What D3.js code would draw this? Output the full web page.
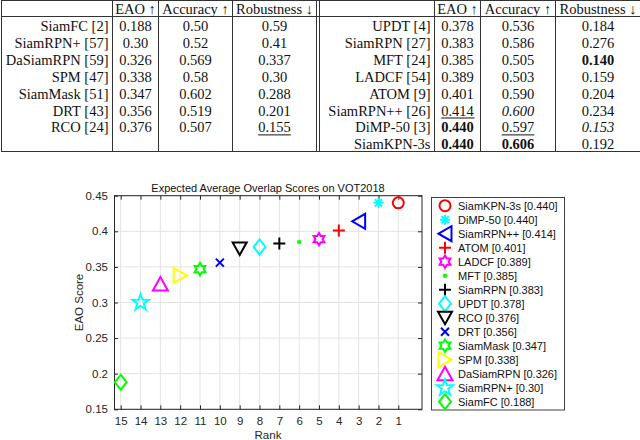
<!DOCTYPE html>
<html><head><meta charset="utf-8">
<script src="https://cdn.jsdelivr.net/npm/d3@7"></script>
<style>body{margin:0;background:#fff}svg{display:block}</style>
</head><body>
<script>
// ---------- table data ----------
const tableHeaders = ["EAO \u2191", "Accuracy \u2191", "Robustness \u2193"];
const leftNames = ["SiamFC [2]", "SiamRPN+ [57]", "DaSiamRPN [59]", "SPM [47]", "SiamMask [51]", "DRT [43]", "RCO [24]"];
const leftEAO = ["0.188", "0.30", "0.326", "0.338", "0.347", "0.356", "0.376"];
const leftAcc = ["0.50", "0.52", "0.569", "0.58", "0.602", "0.519", "0.507"];
const leftRob = ["0.59", "0.41", "0.337", "0.30", "0.288", "0.201", "0.155"];
const leftEmph = [["","",""],["","",""],["","",""],["","",""],["","",""],["","",""],["","","u"]];
const rightNames = ["UPDT [4]", "SiamRPN [27]", "MFT [24]", "LADCF [54]", "ATOM [9]", "SiamRPN++ [26]", "DiMP-50 [3]", "SiamKPN-3s"];
const rightEAO = ["0.378", "0.383", "0.385", "0.389", "0.401", "0.414", "0.440", "0.440"];
const rightAcc = ["0.536", "0.586", "0.505", "0.503", "0.590", "0.600", "0.597", "0.606"];
const rightRob = ["0.184", "0.276", "0.140", "0.159", "0.204", "0.234", "0.153", "0.192"];
const rightEmph = [["","",""],["","",""],["","","b"],["","",""],["","",""],["u","i",""],["b","u","i"],["b","b",""]];

// ---------- chart data ----------
const trackers = ["SiamKPN-3s","DiMP-50","SiamRPN++","ATOM","LADCF","MFT","SiamRPN","UPDT","RCO","DRT","SiamMask","SPM","DaSiamRPN","SiamRPN+","SiamFC"];
const eaoScores = [0.440,0.440,0.414,0.401,0.389,0.385,0.383,0.378,0.376,0.356,0.347,0.338,0.326,0.30,0.188];
const scoreLabels = ["0.440","0.440","0.414","0.401","0.389","0.385","0.383","0.378","0.376","0.356","0.347","0.338","0.326","0.30","0.188"];
const ranks = [1,2,3,4,5,6,7,8,9,10,11,12,13,14,15];
const markerTypes = ["circle","asterisk","triLeft","plus","hexagram","point","plus","diamond","triDown","x","hexagram","triRight","triUp","pentagram","diamond"];
const markerColors = ["#ff0000","#00ffff","#0000ff","#ff0000","#ff00ff","#00ff00","#000000","#00ffff","#000000","#0000ff","#00ff00","#ffff00","#ff00ff","#00ffff","#00ff00"];
const yTicks = [0.15,0.2,0.25,0.3,0.35,0.4,0.45];
const xTicks = [15,14,13,12,11,10,9,8,7,6,5,4,3,2,1];

const W = 640, H = 440;
const svg = d3.select("body").append("svg").attr("width", W).attr("height", H);

// ---------- table ----------
const tFont = "'Liberation Serif', 'Times New Roman', serif";
const tfs = 14.5;
const rowY0 = 26, rowStep = 16.9, headY = 8.5;
const tg = svg.append("g").attr("font-family", tFont).attr("font-size", tfs).attr("fill", "#111");
const lineCol = "#333";
function hline(x1, x2, y) { tg.append("line").attr("x1", x1).attr("x2", x2).attr("y1", y).attr("y2", y).attr("stroke", lineCol).attr("stroke-width", 1); }
function vline(x, y1, y2) { tg.append("line").attr("x1", x).attr("x2", x).attr("y1", y1).attr("y2", y2).attr("stroke", lineCol).attr("stroke-width", 1); }
hline(1, 640, 0.5); hline(1, 640, 16.5); hline(1, 640, 151.5);
[1.5, 112.5, 158.5, 232.5, 316.5, 319.5, 434.5, 480.5, 555.5].forEach(x => vline(x, 0, 152));

function cellText(x, y, txt, anchor, emph) {
  const t = tg.append("text").attr("x", x).attr("y", y).attr("text-anchor", anchor)
    .attr("dominant-baseline", "central").text(txt);
  if (emph === "b") t.attr("font-weight", "bold");
  if (emph === "i") t.attr("font-style", "italic");
  if (emph === "u") {
    const bb = t.node().getBBox();
    tg.append("line").attr("x1", bb.x).attr("x2", bb.x + bb.width).attr("y1", y + 7.5).attr("y2", y + 7.5)
      .attr("stroke", "#111").attr("stroke-width", 1);
  }
}
function drawHalf(names, eao, acc, rob, emph, cols) {
  tableHeaders.forEach((h, i) => cellText(cols[i + 1], headY, h, "middle", ""));
  names.forEach((n, i) => {
    const y = rowY0 + i * rowStep;
    cellText(cols[0], y, n, "end", "");
    cellText(cols[1], y, eao[i], "middle", emph[i][0]);
    cellText(cols[2], y, acc[i], "middle", emph[i][1]);
    cellText(cols[3], y, rob[i], "middle", emph[i][2]);
  });
}
drawHalf(leftNames, leftEAO, leftAcc, leftRob, leftEmph, [108.5, 135.5, 195.5, 274.5]);
drawHalf(rightNames, rightEAO, rightAcc, rightRob, rightEmph, [430.5, 457.5, 518, 598]);

// ---------- chart ----------
const cFont = "'Liberation Sans', Arial, Helvetica, sans-serif";
const frame = {l: 114, r: 422, t: 195.7, b: 409.3};
const x = d3.scaleLinear().domain([15, 1]).range([120.7, 398.3]);
const y = d3.scaleLinear().domain([0.15, 0.45]).range([frame.b, frame.t]);
const cg = svg.append("g").attr("font-family", cFont);

// grid
cg.append("g").selectAll("line").data(xTicks).join("line")
  .attr("x1", d => x(d)).attr("x2", d => x(d)).attr("y1", frame.t).attr("y2", frame.b)
  .attr("stroke", "#e3e3e3").attr("stroke-width", 1);
cg.append("g").selectAll("line").data(yTicks).join("line")
  .attr("x1", frame.l).attr("x2", frame.r).attr("y1", d => y(d)).attr("y2", d => y(d))
  .attr("stroke", "#e3e3e3").attr("stroke-width", 1);

// axes (ticks inward)
const axCol = "#262626";
const xb = cg.append("g").attr("transform", `translate(0,${frame.b})`)
  .call(d3.axisBottom(x).tickValues(xTicks).tickSizeInner(-4).tickSizeOuter(0).tickPadding(8));
const xt = cg.append("g").attr("transform", `translate(0,${frame.t})`)
  .call(d3.axisTop(x).tickValues(xTicks).tickSizeInner(-4).tickSizeOuter(0).tickFormat(""));
const yl = cg.append("g").attr("transform", `translate(${frame.l},0)`)
  .call(d3.axisLeft(y).tickValues(yTicks).tickSizeInner(-4).tickSizeOuter(0).tickPadding(6).tickFormat(d3.format("")));
const yr = cg.append("g").attr("transform", `translate(${frame.r},0)`)
  .call(d3.axisRight(y).tickValues(yTicks).tickSizeInner(-4).tickSizeOuter(0).tickFormat(""));
[xb, xt, yl, yr].forEach(g => {
  g.selectAll(".domain").remove();
  g.selectAll("line").attr("stroke", axCol);
  g.selectAll("text").attr("font-size", 11.5).attr("font-family", cFont).attr("fill", axCol);
});
cg.append("rect").attr("x", frame.l + 0.5).attr("y", frame.t).attr("width", frame.r - frame.l - 0.5).attr("height", frame.b - frame.t)
  .attr("fill", "none").attr("stroke", axCol).attr("stroke-width", 1);

// labels
cg.append("text").attr("x", (frame.l + frame.r) / 2).attr("y", 192).attr("text-anchor", "middle")
  .attr("font-size", 11).attr("fill", "#111").text("Expected Average Overlap Scores on VOT2018");
cg.append("text").attr("x", (frame.l + frame.r) / 2).attr("y", 439).attr("text-anchor", "middle")
  .attr("font-size", 11.5).attr("fill", axCol).text("Rank");
cg.append("text").attr("transform", `translate(83,${(frame.t + frame.b) / 2}) rotate(-90)`).attr("text-anchor", "middle")
  .attr("font-size", 11.5).attr("fill", axCol).text("EAO Score");

// marker shapes
function starPts(n, ro, ri, rot) {
  const p = [];
  for (let i = 0; i < 2 * n; i++) {
    const r = i % 2 === 0 ? ro : ri;
    const a = rot + i * Math.PI / n;
    p.push([r * Math.sin(a), -r * Math.cos(a)]);
  }
  return "M" + p.map(q => q.join(",")).join("L") + "Z";
}
function markerPath(type) {
  switch (type) {
    case "circle": return "M-5.5,0A5.5,5.5 0 1,0 5.5,0A5.5,5.5 0 1,0 -5.5,0Z";
    case "asterisk": { const a = 5, b = 3.6; return `M${-a},0L${a},0M0,${-a}L0,${a}M${-b},${-b}L${b},${b}M${-b},${b}L${b},${-b}`; }
    case "triLeft": return "M-6.5,0L6.5,-7.5L6.5,7.5Z";
    case "triRight": return "M6.5,0L-6.5,-7.5L-6.5,7.5Z";
    case "triUp": return "M0,-7L7.5,6.5L-7.5,6.5Z";
    case "triDown": return "M0,6.5L7,-6L-7,-6Z";
    case "plus": return "M-6,0L6,0M0,-6L0,6";
    case "x": return "M-4,-4L4,4M-4,4L4,-4";
    case "diamond": return "M0,-7.5L6,0L0,7.5L-6,0Z";
    case "hexagram": return starPts(6, 6.2, 3.6, 0);
    case "pentagram": return starPts(5, 8.5, 3.4, 0);
    case "point": return "M-2,0A2,2 0 1,0 2,0A2,2 0 1,0 -2,0Z";
  }
}
function drawMarker(g, type, color) {
  g.append("path").attr("d", markerPath(type))
    .attr("fill", type === "point" ? color : "none")
    .attr("stroke", color).attr("stroke-width", type === "point" ? 0.5 : 2)
    .attr("stroke-linejoin", "miter");
}
trackers.forEach((t, i) => {
  const g = cg.append("g").attr("transform", `translate(${x(ranks[i])},${y(eaoScores[i])})`);
  drawMarker(g, markerTypes[i], markerColors[i]);
});

// legend
const lg = cg.append("g");
lg.append("rect").attr("x", 431.5).attr("y", 197.5).attr("width", 133).attr("height", 212.5)
  .attr("fill", "#fff").attr("stroke", "#404040").attr("stroke-width", 1);
trackers.forEach((t, i) => {
  const ly = 205.7 + i * 14;
  const g = lg.append("g").attr("transform", `translate(445,${ly})`);
  drawMarker(g, markerTypes[i], markerColors[i]);
  lg.append("text").attr("x", 458).attr("y", ly).attr("dominant-baseline", "central")
    .attr("font-size", 11).attr("fill", "#111").text(`${t} [${scoreLabels[i]}]`);
});
</script>
</body></html>
